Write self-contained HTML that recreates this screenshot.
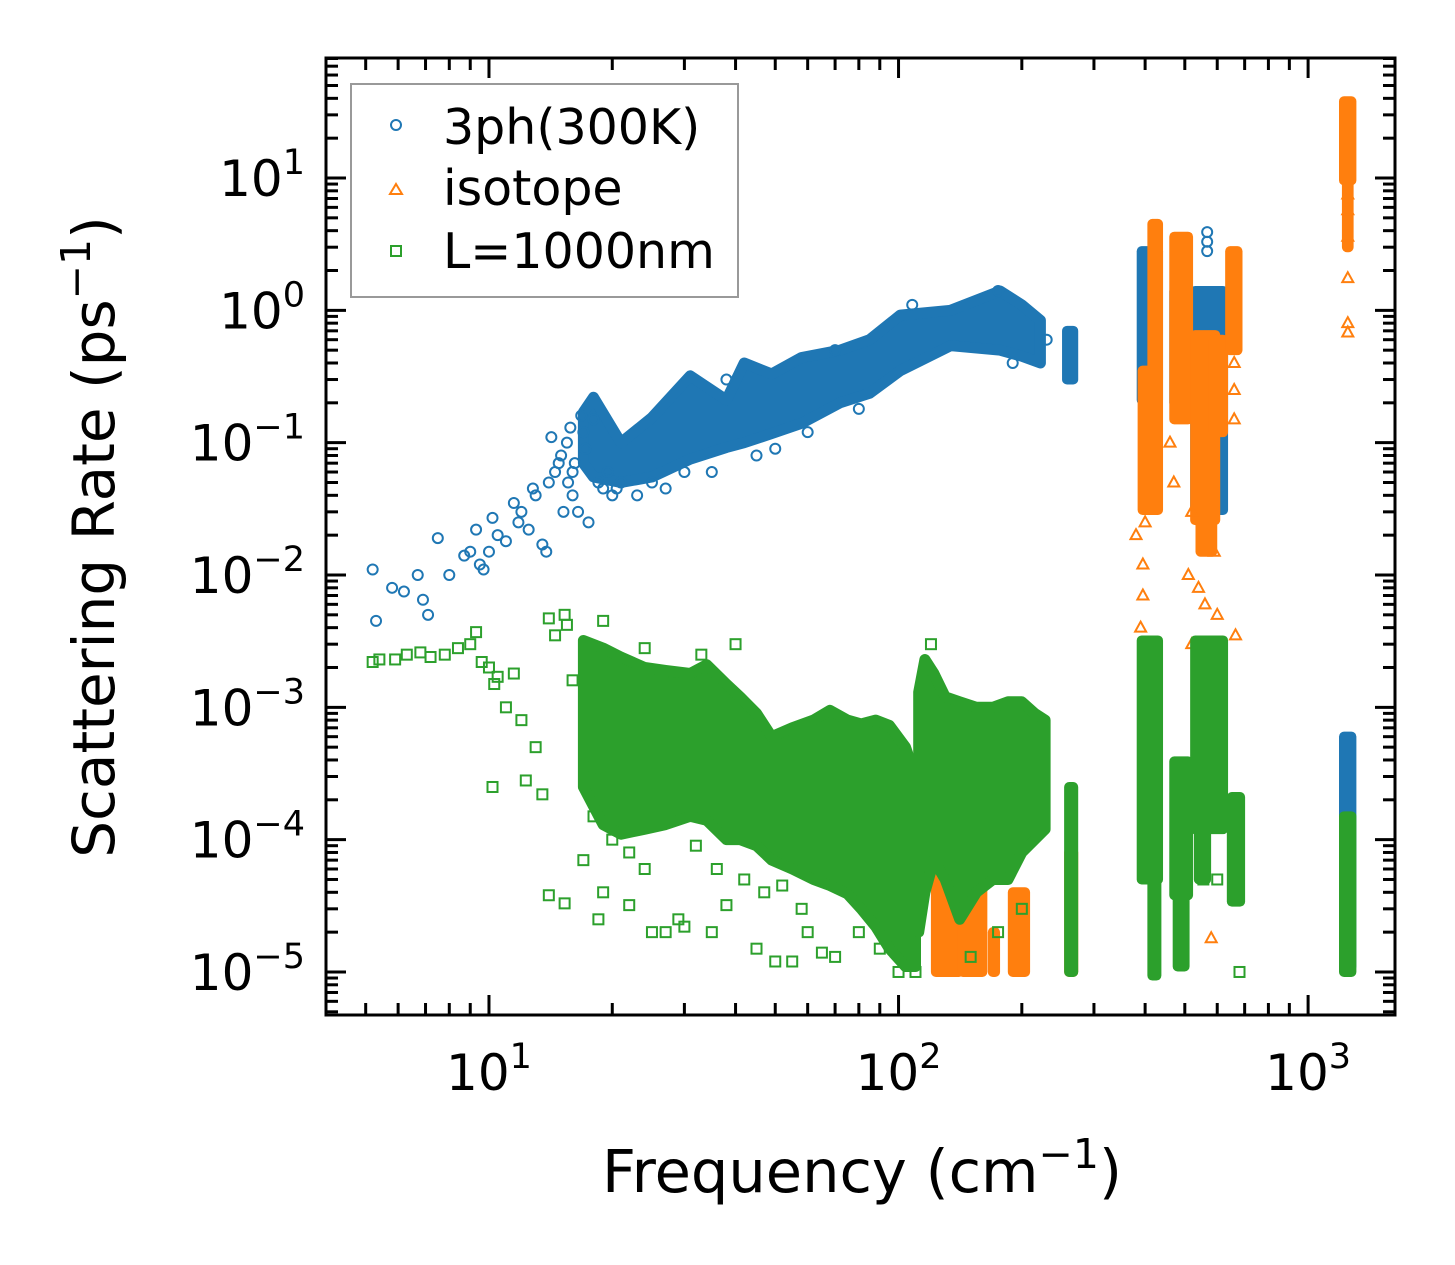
<!DOCTYPE html>
<html><head><meta charset="utf-8">
<style>
html,body{margin:0;padding:0;background:#fff;}
svg{display:block;font-family:"DejaVu Sans","Liberation Sans",sans-serif;}
</style></head>
<body>
<svg id="chart" width="1455" height="1265" viewBox="0 0 1455 1265" xmlns="http://www.w3.org/2000/svg">
<rect width="1455" height="1265" fill="#fff"/>
<g id="marks"></g>
<g id="axes"></g>
<g id="legend">
  <rect x="351" y="84" width="387" height="213" fill="#fff" fill-opacity="0.85" stroke="#999" stroke-width="2"/>
  <g>
    <circle cx="396" cy="125" r="5" fill="none" stroke="#1f77b4" stroke-width="2"/>
    <text x="443" y="144" font-size="49">3ph(300K)</text>
  </g>
  <g>
    <path d="M396 184 L402 194 L390 194 Z" fill="none" stroke="#ff7f0e" stroke-width="2"/>
    <text x="443" y="205" font-size="49">isotope</text>
  </g>
  <g>
    <rect x="391" y="246" width="10" height="10" fill="none" stroke="#2ca02c" stroke-width="2"/>
    <text x="443" y="268" font-size="49">L=1000nm</text>
  </g>
</g>
<text x="862" y="1192" font-size="59" text-anchor="middle">Frequency (cm<tspan dy="-24" font-size="41">−1</tspan><tspan dy="24">)</tspan></text>
<text transform="translate(114,537) rotate(-90)" font-size="58" text-anchor="middle">Scattering Rate (ps<tspan dy="-24" font-size="41">−1</tspan><tspan dy="24">)</tspan></text>
</svg>
<script>
// ---- data ----
const xDomain = [4.0, 1630];
const yDomain = [80.7, 4.73e-6];
const xTickExps = [1, 2, 3];
const yTickExps = [1, 0, -1, -2, -3, -4, -5];

// dense continuous bands (envelopes)
const blueBandF  = [17,18,21,25,31,38,42,49,58,72,85,101,134,177,200,222];
const blueBandHi = [0.17,0.22,0.1,0.155,0.32,0.21,0.4,0.33,0.44,0.5,0.6,0.92,1.0,1.4,1.1,0.84];
const blueBandLo = [0.07,0.055,0.05,0.055,0.075,0.092,0.1,0.117,0.14,0.2,0.236,0.35,0.54,0.5,0.45,0.4];

const greenBand1F  = [17,19,21,24,27,31,34,38,41,45,49,55,62,68,75,81,88,95,104,110];
const greenBand1Hi = [3.2e-3,2.8e-3,2.4e-3,2e-3,1.9e-3,1.8e-3,2.1e-3,1.5e-3,1.2e-3,9e-4,6e-4,7e-4,8e-4,9.5e-4,8e-4,7.5e-4,8e-4,7.3e-4,5e-4,3e-4];
const greenBand1Lo = [2.5e-4,1.3e-4,1.1e-4,1.2e-4,1.3e-4,1.5e-4,1.4e-4,1.0e-4,1e-4,9e-5,7e-5,6e-5,5e-5,4.5e-5,3.9e-5,3e-5,2.2e-5,1.5e-5,1.1e-5,1.1e-5];

const greenBand2F  = [112,116,122,130,141,155,170,185,200,215,228];
const greenBand2Hi = [1.3e-3,2.3e-3,1.8e-3,1.2e-3,1.1e-3,1e-3,1e-3,1.1e-3,1.1e-3,9e-4,8e-4];
const greenBand2Lo = [2e-5,4e-5,7e-5,5e-5,2.5e-5,4e-5,5e-5,5e-5,8e-5,1e-4,1.2e-4];

// vertical stripes: [f0, f1, low, high]
const blueClusters = [
 [255,270,0.3,0.7],[388,435,0.21,2.8],[466,515,0.2,1.4],[524,627,0.031,1.4],[1210,1290,1.1e-5,6e-4]
];
const orangeClusters = [
 [1210,1290,9.6,38],[1230,1270,3,9.6],[412,435,0.3,4.5],[390,435,0.031,0.35],[466,515,0.15,3.6],[524,600,0.026,0.65],
 [580,627,0.12,0.6],[540,590,0.015,0.03],[638,680,0.5,2.8],
 [122,142,1e-5,1.5e-4],[142,162,1e-5,6e-5],[168,174,1e-5,2e-5],[188,206,1e-5,4e-5],[258,270,1e-5,8e-5]
];
const greenClusters = [
 [258,270,1e-5,2.5e-4],[388,435,5e-5,3.2e-3],[412,431,9.4e-6,5e-5],[466,515,3.8e-5,3.9e-4],[475,505,1.1e-5,3.8e-5],
 [524,627,1.2e-4,3.2e-3],[535,570,5e-5,1.2e-4],[644,690,3.4e-5,2.1e-4],[1210,1290,1e-5,1.5e-4]
];

const blueF = [5.2,5.3,5.8,6.2,6.7,6.9,7.1,7.5,8,8.7,9,9.3,9.5,9.7,10,10.2,10.5,11,11.5,12,12.5,13,13.5,14,14.5,15,15.5,16,16.5,17,17.5,18,13.8,12.8,11.8,15.2,16.2,14.2,19,20,21,23,25,27,30,35,38,45,50,60,70,80,108,175,230,567,567,567,190,15.8,16.8,16,17.2,18.5,19.5,20.5,14.8,15.6];
const blueR = [0.011,0.0045,0.008,0.0075,0.01,0.0065,0.005,0.019,0.01,0.014,0.015,0.022,0.012,0.011,0.015,0.027,0.02,0.018,0.035,0.03,0.022,0.04,0.017,0.05,0.06,0.08,0.1,0.04,0.03,0.12,0.025,0.15,0.015,0.045,0.025,0.03,0.07,0.11,0.045,0.04,0.05,0.04,0.05,0.045,0.06,0.06,0.3,0.08,0.09,0.12,0.5,0.18,1.1,1.4,0.6,3.9,3.3,2.8,0.4,0.13,0.16,0.06,0.09,0.05,0.06,0.045,0.07,0.05];

const orangeF = [1250,1250,1250,1250,1250,1250,390,395,400,510,520,540,560,580,590,580,600,665,520,580,660,660,660,460,470,380,395];
const orangeR = [0.68,0.8,1.75,3.6,5.7,7.5,0.004,0.007,0.025,0.01,0.03,0.008,0.006,0.003,0.015,0.0018,0.005,0.0035,0.003,0.000018,0.4,0.25,0.15,0.1,0.05,0.02,0.012];

const greenF = [5.2,5.4,5.9,6.3,6.8,7.2,7.8,8.4,9,9.3,9.6,10,10.3,10.5,10.2,11,11.5,12,12.3,13,13.5,14,14.5,15.3,15.5,16,14,15.3,17,17.6,18.5,19,19,22,24,25,27,29,30,35,38,45,50,55,60,65,70,40,33,120,100,110,680,555,600,24,28,18,20,22,32,36,42,47,52,58,80,90,150,175,200];
const greenR = [0.0022,0.0023,0.0023,0.0025,0.0026,0.0024,0.0025,0.0028,0.003,0.0037,0.0022,0.002,0.0015,0.0017,0.00025,0.001,0.0018,0.0008,0.00028,0.0005,0.00022,0.0047,0.0035,0.005,0.0042,0.0016,0.000038,0.000033,0.00007,0.00035,0.000025,0.0045,0.00004,0.000032,0.00006,0.00002,0.00002,0.000025,0.000022,0.00002,0.000032,0.000015,0.000012,0.000012,0.00002,0.000014,0.000013,0.003,0.0025,0.003,0.00001,0.00001,0.00001,0.00005,0.00005,0.0028,0.0018,0.00015,0.0001,0.00008,0.00009,0.00006,0.00005,0.00004,0.000045,0.00003,0.00002,0.000015,0.000013,0.00002,0.00003];

// ---- layout ----
const L=326, R=1395, T=58, B=1015;
const NS='http://www.w3.org/2000/svg';
function sx(f){return L+(Math.log10(f)-Math.log10(xDomain[0]))/(Math.log10(xDomain[1])-Math.log10(xDomain[0]))*(R-L);}
function sy(r){return T+(Math.log10(yDomain[0])-Math.log10(r))/(Math.log10(yDomain[0])-Math.log10(yDomain[1]))*(B-T);}
function mk(tag,attrs,parent){const e=document.createElementNS(NS,tag);for(const k in attrs)e.setAttribute(k,attrs[k]);parent.appendChild(e);return e;}
const marks=document.getElementById('marks');
const axes=document.getElementById('axes');
const colors={blue:'#1f77b4',orange:'#ff7f0e',green:'#2ca02c'};

function drawBand(F,Lo,Hi,color,name){
  let d='';
  F.forEach((f,i)=>{d+=(i?'L':'M')+sx(f).toFixed(1)+' '+sy(Hi[i]).toFixed(1)+' ';});
  for(let i=F.length-1;i>=0;i--){d+='L'+sx(F[i]).toFixed(1)+' '+sy(Lo[i]).toFixed(1)+' ';}
  d+='Z';
  const p=mk('path',{d:d,fill:color,stroke:color,'stroke-width':11,'stroke-linejoin':'round'},marks);
  
  
}
function drawClusters(cl,color,name){
  const g=mk('g',{},marks);
  
  
  cl.forEach(c=>{
    const x0=sx(c[0])-3,x1=sx(c[1])+3,y0=sy(c[3])-5,y1=sy(c[2])+5;
    const r=mk('rect',{x:x0,y:y0,width:x1-x0,height:y1-y0,rx:5,fill:color},g);
    
    
  });
}
function drawPoints(F,Rr,color,shape,name){
  const g=mk('g',{fill:'none',stroke:color,'stroke-width':2},marks);
  
  
  F.forEach((f,i)=>{
    const x=sx(f),y=sy(Rr[i]);let e;
    if(shape==='c') e=mk('circle',{cx:x,cy:y,r:5},g);
    else if(shape==='t') e=mk('path',{d:`M${x} ${y-6} L${x+5.5} ${y+4} L${x-5.5} ${y+4} Z`},g);
    else e=mk('rect',{x:x-5,y:y-5,width:10,height:10},g);
    
    
  });
}
drawBand(blueBandF,blueBandLo,blueBandHi,colors.blue,'3ph');
drawClusters(blueClusters,colors.blue,'3ph');
drawPoints(blueF,blueR,colors.blue,'c','3ph');
drawClusters(orangeClusters,colors.orange,'isotope');
drawPoints(orangeF,orangeR,colors.orange,'t','isotope');
drawBand(greenBand1F,greenBand1Lo,greenBand1Hi,colors.green,'l1000nm');
drawBand(greenBand2F,greenBand2Lo,greenBand2Hi,colors.green,'l1000nm');
drawClusters(greenClusters,colors.green,'l1000nm');
drawPoints(greenF,greenR,colors.green,'s','l1000nm');

// frame
const fr=mk('rect',{x:L,y:T,width:R-L,height:B-T,fill:'none',stroke:'#000','stroke-width':3},axes);



for(let d=0;d<=3;d++){
  for(let m=1;m<10;m++){
    const f=m*Math.pow(10,d);
    if(f<xDomain[0]||f>xDomain[1])continue;
    const x=sx(f),len=m===1?20:12;
    mk('line',{x1:x,x2:x,y1:B,y2:B-len,stroke:'#000','stroke-width':3},axes);
    mk('line',{x1:x,x2:x,y1:T,y2:T+len,stroke:'#000','stroke-width':3},axes);
  }
}
xTickExps.forEach(e=>{
  const t=mk('text',{x:sx(Math.pow(10,e)),y:1090,'font-size':50,'text-anchor':'middle'},axes);
  
  
  t.innerHTML='10<tspan dy="-22" font-size="35">'+e+'</tspan>';
});
for(let d=-6;d<=1;d++){
  for(let m=1;m<10;m++){
    const r=m*Math.pow(10,d);
    if(r<yDomain[1]||r>yDomain[0])continue;
    const y=sy(r),len=m===1?20:12;
    mk('line',{x1:L,x2:L+len,y1:y,y2:y,stroke:'#000','stroke-width':3},axes);
    mk('line',{x1:R,x2:R-len,y1:y,y2:y,stroke:'#000','stroke-width':3},axes);
  }
}
yTickExps.forEach(e=>{
  const t=mk('text',{x:305,y:sy(Math.pow(10,e))+18,'font-size':50,'text-anchor':'end'},axes);
  
  
  t.innerHTML='10<tspan dy="-22" font-size="35">'+(e<0?'−'+(-e):e)+'</tspan>';
});
</script>
</body></html>
